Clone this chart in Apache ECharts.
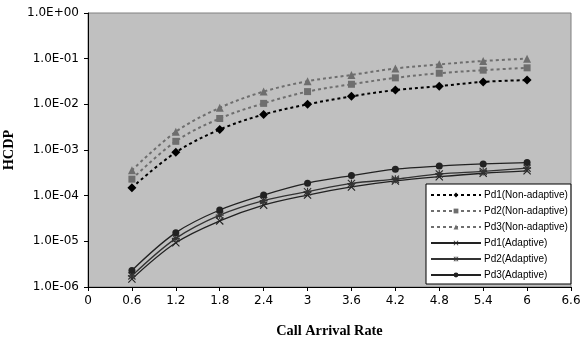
<!DOCTYPE html>
<html><head><meta charset="utf-8">
<script src="https://cdn.jsdelivr.net/npm/echarts@6/dist/echarts.min.js"></script>
<style>html,body{margin:0;padding:0;background:#fff}#c{width:582px;height:342px}</style>
</head><body><div id="c"></div>
<script>
const rates = [0.6, 1.2, 1.8, 2.4, 3.0, 3.6, 4.2, 4.8, 5.4, 6.0];
const pd1NonAdaptive = [1.5e-4, 8.9e-4, 2.8e-3, 6.0e-3, 1.0e-2, 1.5e-2, 2.05e-2, 2.5e-2, 3.1e-2, 3.4e-2];
const pd2NonAdaptive = [2.3e-4, 1.55e-3, 4.9e-3, 1.05e-2, 1.9e-2, 2.75e-2, 3.8e-2, 4.8e-2, 5.6e-2, 6.3e-2];
const pd3NonAdaptive = [3.6e-4, 2.5e-3, 8.4e-3, 1.9e-2, 3.2e-2, 4.4e-2, 6.1e-2, 7.5e-2, 8.9e-2, 1.0e-1];
const pd1Adaptive = [1.5e-6, 9.3e-6, 2.8e-5, 6.2e-5, 1.03e-4, 1.55e-4, 2.1e-4, 2.6e-4, 3.1e-4, 3.5e-4];
const pd2Adaptive = [1.75e-6, 1.16e-5, 3.75e-5, 7.8e-5, 1.22e-4, 1.85e-4, 2.3e-4, 3.0e-4, 3.4e-4, 4.0e-4];
const pd3Adaptive = [2.3e-6, 1.55e-5, 4.85e-5, 1.03e-4, 1.88e-4, 2.75e-4, 3.8e-4, 4.45e-4, 4.95e-4, 5.3e-4];
const seriesNames = ['Pd1(Non-adaptive)','Pd2(Non-adaptive)','Pd3(Non-adaptive)','Pd1(Adaptive)','Pd2(Adaptive)','Pd3(Adaptive)'];

const X_PATH = 'path://M0,1 L1,0 L5,4 L9,0 L10,1 L6,5 L10,9 L9,10 L5,6 L1,10 L0,9 L4,5 Z';
const STAR_PATH = 'path://M0,1 L1,0 L5,4 L9,0 L10,1 L6,5 L10,9 L9,10 L5,6 L1,10 L0,9 L4,5 Z M4.3,0 L5.7,0 L5.7,10 L4.3,10 Z M0,4.3 L10,4.3 L10,5.7 L0,5.7 Z';

function pairs(vals){ return rates.map((r,i)=>[r, vals[i]]); }

function mk(name, vals, color, dashed, symbol, size){
  return {
    name, type:'line', data:pairs(vals), smooth:0.35,
    symbol, symbolSize:size, showSymbol:true,
    lineStyle:{color, width: dashed?2:1.3, type: dashed?[3,3]:'solid'},
    itemStyle:{color},
    emphasis:{disabled:true}
  };
}

const fmtE = v => {
  let s = Number(v).toExponential(1).toUpperCase();
  return s.replace(/E([+-])(\d)$/, 'E$10$2');
};

const chart = echarts.init(document.getElementById('c'));
chart.setOption({
  animation:false,
  grid:{left:88, right:11, top:13, bottom:55, containLabel:false, outerBoundsMode:'none',
    show:true, backgroundColor:'#c0c0c0', borderColor:'#808080', borderWidth:1},
  xAxis:{type:'value', min:0, max:6.6, interval:0.6,
    name:'Call Arrival Rate', nameLocation:'middle', nameGap:37,
    nameTextStyle:{fontFamily:'Liberation Serif', fontWeight:'bold', fontSize:14.3, color:'#000'},
    axisLine:{show:true, lineStyle:{color:'#000', width:1}},
    axisTick:{show:true, inside:false, length:4, lineStyle:{color:'#000'}},
    axisLabel:{color:'#000', fontFamily:'DejaVu Sans', fontSize:12, margin:8,
      formatter: v => String(Math.round(v*10)/10)},
    splitLine:{show:false}},
  yAxis:{type:'log', logBase:10, min:1e-6, max:1,
    name:'HCDP', nameLocation:'middle', nameGap:66, nameRotate:90,
    nameTextStyle:{fontFamily:'Liberation Serif', fontWeight:'bold', fontSize:14.3, color:'#000'},
    axisLine:{show:true, lineStyle:{color:'#000', width:1}},
    axisTick:{show:true, inside:false, length:4, lineStyle:{color:'#000'}},
    minorTick:{show:false},
    axisLabel:{color:'#000', fontFamily:'DejaVu Sans', fontSize:12, margin:9, formatter: fmtE},
    splitLine:{show:false}},
  legend:{
    orient:'vertical', left:426, top:184,
    backgroundColor:'#fff', borderColor:'#000', borderWidth:1,
    padding:[6,3,4,4], itemGap:6, itemWidth:50, itemHeight:6,
    textStyle:{fontFamily:'Liberation Sans', fontSize:10, color:'#000', padding:[0,0,0,-2]},
    data: seriesNames
  },
  series:[
    mk(seriesNames[0], pd1NonAdaptive, '#000000', true, 'diamond', 9),
    mk(seriesNames[1], pd2NonAdaptive, '#6e6e6e', true, 'rect', 7),
    mk(seriesNames[2], pd3NonAdaptive, '#6e6e6e', true, 'triangle', 8),
    mk(seriesNames[3], pd1Adaptive, '#222222', false, X_PATH, 8),
    mk(seriesNames[4], pd2Adaptive, '#333333', false, STAR_PATH, 8),
    mk(seriesNames[5], pd3Adaptive, '#222222', false, 'circle', 7)
  ]
});
</script></body></html>
